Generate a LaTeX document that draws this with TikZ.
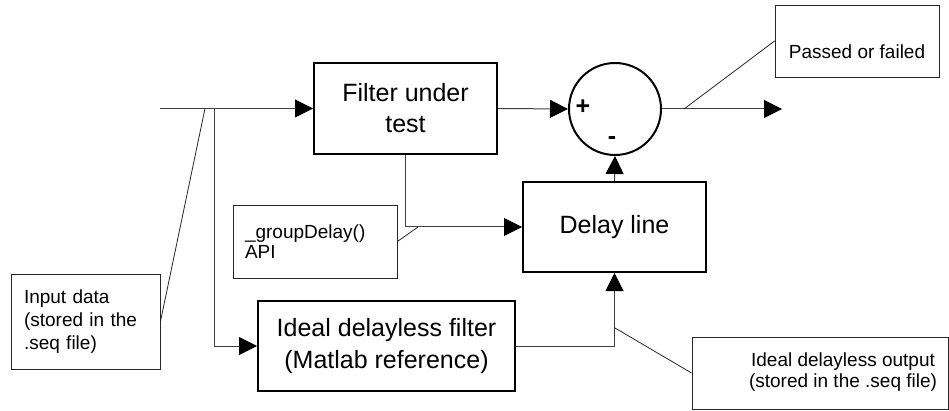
\documentclass[tikz,border=0pt]{standalone}
\usepackage{fontspec}
\setmainfont{Liberation Sans}
\usetikzlibrary{arrows.meta}
\begin{document}
\begin{tikzpicture}[x=1pt,y=-1pt,
 block/.style={draw=black,line width=2pt,font=\fontsize{25}{31}\selectfont,align=center,inner sep=0pt},
 note/.style={draw=black!85,line width=0.9pt,inner sep=0pt,font=\fontsize{19}{21}\selectfont},
 conn/.style={draw=black!75,line width=1pt},
 arr/.style={conn,-{Triangle[length=18pt,width=18pt,color=black,fill=black]}},
 lead/.style={draw=black!85,line width=0.8pt},
 small/.style={font=\fontsize{19}{21}\selectfont,inner sep=0pt},
 sign/.style={font=\fontsize{25}{25}\selectfont\bfseries,inner sep=0pt}]
\useasboundingbox (0,0) rectangle (949,411);
% main blocks
\node[block,minimum width=183pt,minimum height=91pt] (filt) at (405.5,108.5) {Filter under\\test};
\node[block,minimum width=183pt,minimum height=90pt] (delay) at (614.5,227) {Delay line};
\node[block,minimum width=257pt,minimum height=90pt,font=\fontsize{25}{32}\selectfont] (ideal) at (386.5,346) {Ideal delayless filter\\(Matlab reference)};
\node[circle,draw=black,line width=2pt,minimum size=92pt,inner sep=0pt] (sum) at (615,109) {};
\node[sign] (plus) at (583,107) {+};
\node[sign] (minus) at (612,141) {-};
% callout boxes
\node[note,minimum width=149pt,minimum height=95pt,text width=123pt,align=left,font=\fontsize{19}{23}\selectfont] (inbox) at (85.5,321.5) {Input data\\(stored in the\\.seq file)};
\node[note,minimum width=164pt,minimum height=73pt,text width=140pt,align=left,font=\fontsize{19}{20}\selectfont] (gd) at (315,241.5) {\_groupDelay()\\API};
\node[note,minimum width=164pt,minimum height=72pt] (pass) at (857,41) {};
\node[small] (passtxt) at (857,52) {Passed or failed};
\node[note,minimum width=256pt,minimum height=72pt] (iout) at (820,373) {};
\node[small,align=center] (iouttxt) at (843,372.5) {Ideal delayless output\\(stored in the .seq file)};
% coordinates
\coordinate (in) at (160,108.5);
\coordinate (br) at (214,108.5);
\coordinate (c1) at (205,108.5);
\coordinate (c2) at (418,227);
\coordinate (c3) at (684,109);
\coordinate (c4) at (615,328);
\coordinate (out) at (782,109);
% connectors
\draw[arr] (in) -- (filt.west);
\draw[arr] (br) |- (ideal.west);
\draw[arr] (filt.east) -- (sum.west);
\draw[arr] (filt.south) |- (delay.west);
\draw[arr] (delay.north) -- (sum.south);
\draw[arr] (ideal.east) -| (delay.south);
\draw[arr] (sum.east) -- (out);
% leaders
\draw[lead] (c1) -- (inbox.east);
\draw[lead] (c2) -- (gd.east);
\draw[lead] (c3) -- (pass.west);
\draw[lead] (c4) -- (iout.west);
\end{tikzpicture}
\end{document}
